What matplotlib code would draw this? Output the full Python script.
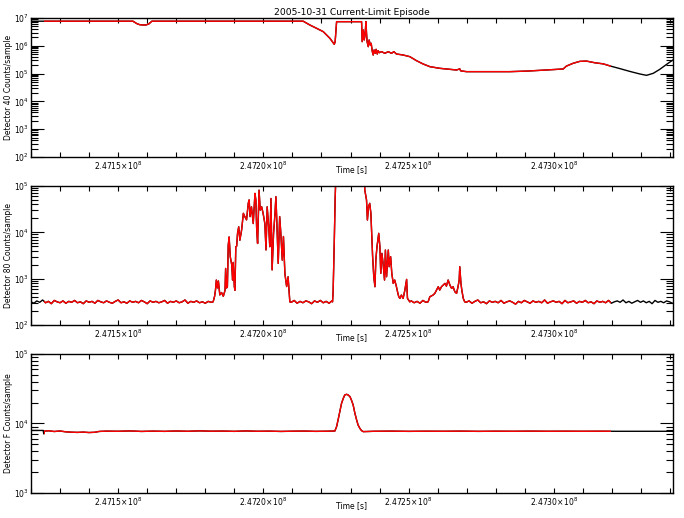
import numpy as np
import matplotlib
matplotlib.use("Agg")
import matplotlib.pyplot as plt
from matplotlib.patches import Rectangle
from matplotlib.ticker import MultipleLocator, LogLocator, NullFormatter, FuncFormatter

# time axis: kiloseconds after T0
T0 = 2.4712e8
T_END_KS = 221.0
RED_KS = (4.4, 199.6)          # part of the record drawn in red

# ---- Detector 40 (log10 counts/sample)
P1_KS = [0, 35.1, 36.4, 37.4, 38.5, 39.6, 40.6, 41.6,
         93.7, 96.0, 98.3, 100.6, 102.9, 104.4, 104.7, 105.2,
         113.8, 114.0, 114.4, 114.7, 115.0, 115.3, 115.5, 115.7, 116.1, 116.4,
         116.8, 117.1, 117.5, 117.8, 118.1, 118.5, 118.8, 119.2, 119.5, 119.9,
         120.7, 121.8, 123.0, 124.1, 124.9, 125.8, 128.1, 130.4, 132.7, 135.0,
         137.3, 140.7, 146.5, 147.6, 147.9, 149.9, 164.8, 170.6, 177.4, 183.2,
         184.3, 186.6, 188.9, 191.2, 194.1, 197.0, 199.5, 202.7, 206.1, 209.6,
         211.9, 214.2, 216.4, 219.3, 221.0]
P1_LOG = [6.885, 6.885, 6.80, 6.76, 6.75, 6.75, 6.79, 6.885,
          6.885, 6.748, 6.629, 6.509, 6.269, 6.053, 6.149, 6.868,
          6.868, 6.149, 6.569, 6.209, 6.389, 6.868, 6.449, 6.149, 5.969, 6.209,
          6.029, 6.089, 5.789, 5.669, 5.849, 5.729, 5.873, 5.705, 5.825, 5.753,
          5.789, 5.729, 5.789, 5.729, 5.789, 5.705, 5.669, 5.609, 5.465, 5.345,
          5.250, 5.19, 5.13, 5.17, 5.10, 5.07, 5.07, 5.09, 5.13, 5.166,
          5.27, 5.37, 5.44, 5.45, 5.39, 5.35, 5.27, 5.18, 5.08, 4.986,
          4.938, 5.01, 5.15, 5.37, 5.49]

# ---- Detector 80: quiet background, 1 ks cadence
P2_QUIET_A = [2.50, 2.47, 2.52, 2.49, 2.54, 2.48, 2.51, 2.46, 2.53, 2.50,
              2.48, 2.52, 2.47, 2.51, 2.49, 2.53, 2.48, 2.50, 2.46, 2.52,
              2.49, 2.51, 2.47, 2.53, 2.50, 2.48, 2.52, 2.49, 2.47, 2.51,
              2.54, 2.48, 2.50, 2.47, 2.52, 2.49, 2.51, 2.48, 2.53, 2.50,
              2.46, 2.52, 2.49, 2.51, 2.48, 2.50, 2.53, 2.47, 2.51, 2.49,
              2.52, 2.48, 2.50, 2.54, 2.47, 2.51, 2.49, 2.52, 2.48, 2.50,
              2.47, 2.51, 2.49]
P2_QUIET_B = [2.49, 2.53, 2.47, 2.51, 2.48, 2.52, 2.50, 2.46, 2.52, 2.49,
              2.53, 2.48, 2.51, 2.47, 2.52]
P2_QUIET_C = [2.52, 2.48, 2.51, 2.47, 2.53, 2.49]
P2_QUIET_D = [2.49, 2.52, 2.47, 2.51, 2.54, 2.48, 2.50, 2.46, 2.52, 2.49,
              2.51, 2.48, 2.53, 2.47, 2.50, 2.52, 2.49, 2.45, 2.51, 2.48,
              2.53, 2.50, 2.47, 2.52, 2.49, 2.51, 2.48, 2.54, 2.47, 2.50,
              2.52, 2.49, 2.51, 2.46, 2.53, 2.48, 2.50, 2.52, 2.47, 2.51,
              2.49, 2.53, 2.48, 2.50, 2.46, 2.52, 2.49, 2.51, 2.48, 2.53,
              2.47, 2.50, 2.52, 2.49, 2.54, 2.48, 2.51, 2.47, 2.50, 2.53,
              2.49, 2.52, 2.48, 2.51, 2.46, 2.53, 2.49, 2.51, 2.48, 2.52,
              2.50, 2.47]
P2_QUIET_START = [0.0, 89.6, 130.9, 149.8]

# ---- Detector 80: active intervals
P2_B1_KS = [62.7, 63.2, 63.5, 63.8, 64.2, 64.5, 65.0, 65.6, 66.2, 66.8,
            67.0, 67.3, 67.6, 67.9, 68.2, 68.6, 69.1, 69.4, 69.6, 70.0,
            70.2, 70.5, 70.8, 71.1, 71.5, 71.9, 72.5, 73.1, 73.6, 74.2,
            74.8, 75.1, 75.4, 75.9, 76.5, 77.1, 77.4, 77.7, 78.0, 78.5,
            78.9, 79.4, 79.9, 80.5, 80.9, 81.3, 81.9, 82.2, 82.6, 83.0,
            83.5, 84.0, 84.3, 84.6, 85.1, 85.6, 86.0, 86.5, 86.9, 87.4,
            88.0, 88.5, 89.1]
P2_B1_LOG = [2.50, 2.62, 2.75, 2.97, 2.80, 2.95, 2.65, 2.70, 2.62, 2.75,
             3.22, 2.80, 2.82, 3.72, 3.90, 3.47, 3.30, 2.97, 3.35, 2.83,
             2.75, 3.69, 3.70, 3.98, 4.12, 3.83, 4.05, 4.41, 4.34, 4.27,
             4.63, 4.70, 4.34, 4.55, 4.19, 4.84, 4.70, 4.05, 3.76, 4.91,
             4.48, 4.55, 4.41, 4.19, 3.62, 4.55, 4.05, 3.69, 4.73, 3.19,
             3.98, 4.41, 4.77, 4.27, 3.33, 4.34, 3.98, 3.40, 3.91, 3.11,
             2.83, 3.04, 2.50]
P2_B2_KS = [103.8, 104.0, 104.4, 104.7, 105.1, 114.6, 114.9, 115.5, 115.8, 116.2,
            116.6, 117.0, 117.2, 117.6, 118.0, 118.4, 118.7, 119.1, 119.4, 119.7,
            120.1, 120.4, 120.8, 121.2, 121.7, 122.0, 122.4, 123.0, 123.3, 123.8,
            124.2, 124.7, 125.2, 125.8, 126.3, 126.6, 127.0, 127.5, 128.1, 128.7,
            129.3, 129.6, 130.4]
P2_B2_LOG = [2.50, 2.718, 3.798, 4.734, 5.5, 5.5, 4.914, 4.698, 4.266, 4.554,
             4.626, 4.410, 4.086, 3.474, 3.042, 2.826, 3.402, 3.690, 3.834, 3.978,
             3.690, 3.114, 3.546, 3.330, 2.970, 3.618, 3.042, 3.618, 3.258, 3.474,
             3.114, 2.898, 2.970, 2.826, 2.682, 2.610, 2.574, 2.646, 2.574, 2.754,
             2.984, 2.574, 2.50]
P2_B3_KS = [136.7, 137.3, 138.4, 139.0, 139.6, 140.2, 140.7, 141.3, 141.9, 142.5,
            143.0, 143.6, 144.2, 144.8, 145.3, 145.9, 146.5, 147.0, 147.4, 147.6,
            148.0, 148.3, 148.8, 149.3]
P2_B3_LOG = [2.50, 2.610, 2.646, 2.682, 2.754, 2.826, 2.754, 2.826, 2.862, 2.898,
             2.840, 2.970, 2.862, 2.790, 2.826, 2.718, 2.682, 2.826, 2.970, 3.258,
             2.898, 2.754, 2.574, 2.50]

# ---- Detector F
P3_KS = [0, 4.2, 4.4, 4.6, 6, 8, 10, 12, 14, 16,
         18, 20, 22, 23.5, 26, 30, 34, 38, 42, 46,
         50, 54, 58, 62, 66, 70, 74, 78, 82, 86,
         90, 94, 98, 102, 104.6, 105.2, 105.7, 106.3, 106.9, 107.5,
         108.0, 108.6, 109.2, 109.8, 110.3, 110.9, 111.5, 112.1, 112.6, 113.2,
         113.8, 114.4, 118, 124, 130, 136, 142, 148, 154, 160,
         166, 172, 178, 184, 190, 196, 202, 208, 214, 221]
P3_LOG = [3.900, 3.900, 3.850, 3.890, 3.895, 3.885, 3.892, 3.880, 3.875, 3.872,
          3.876, 3.870, 3.874, 3.886, 3.890, 3.888, 3.893, 3.886, 3.890, 3.887,
          3.892, 3.888, 3.894, 3.889, 3.891, 3.887, 3.893, 3.888, 3.890, 3.886,
          3.889, 3.891, 3.887, 3.889, 3.892, 3.955, 4.050, 4.170, 4.290, 4.362,
          4.410, 4.420, 4.410, 4.386, 4.338, 4.266, 4.146, 4.050, 3.978, 3.930,
          3.897, 3.883, 3.888, 3.890, 3.887, 3.889, 3.888, 3.890, 3.887, 3.889,
          3.888, 3.890, 3.888, 3.889, 3.888, 3.889, 3.888, 3.888, 3.888, 3.888]

# assemble detector 80
ks2, lg2 = [], []
for start, vals in zip(P2_QUIET_START, [P2_QUIET_A, P2_QUIET_B, P2_QUIET_C, P2_QUIET_D]):
    ks2 += list(start + np.arange(len(vals)) * 1.0)
    lg2 += vals
for k, v in [(P2_B1_KS, P2_B1_LOG), (P2_B2_KS, P2_B2_LOG), (P2_B3_KS, P2_B3_LOG)]:
    ks2 += k
    lg2 += v
order = np.argsort(ks2)
ks2 = np.array(ks2)[order]
lg2 = np.array(lg2)[order]

panels = [
    (np.array(P1_KS), np.array(P1_LOG), (1e2, 1e7), "Detector 40 Counts/sample"),
    (ks2, lg2, (1e2, 1e5), "Detector 80 Counts/sample"),
    (np.array(P3_KS), np.array(P3_LOG), (1e3, 1e5), "Detector F Counts/sample"),
]

plt.rcParams["font.family"] = "DejaVu Sans"
plt.rcParams["font.size"] = 5.5
plt.rcParams["axes.linewidth"] = 1.0

fig = plt.figure(figsize=(6.84, 5.18), dpi=100)
W, H = 684.0, 518.0
tops = [18, 186, 354]
ph = 139

def xfmt(v, pos):
    return r"$%.4f\!\times\!10^{8}$" % (v / 1e8)

for (ks, lg, ylim, ylab), top in zip(panels, tops):
    ax = fig.add_axes([31 / W, 1 - (top + ph) / H, 642 / W, ph / H])
    t = T0 + 1e3 * ks
    y = 10 ** lg
    ax.plot(t, y, color="black", lw=1.0)
    red, = ax.plot(t, y, color="red", lw=1.0)
    ax.set_yscale("log")
    ax.set_ylim(*ylim)
    ax.set_xlim(T0, T0 + 1e3 * T_END_KS)
    # red only inside the window; the rectangle also keeps the axes' y limits
    red.set_clip_path(Rectangle((T0 + 1e3 * RED_KS[0], ylim[0]),
                                1e3 * (RED_KS[1] - RED_KS[0]), ylim[1] - ylim[0],
                                transform=ax.transData))

    ax.xaxis.set_major_locator(MultipleLocator(5e4))
    ax.xaxis.set_minor_locator(MultipleLocator(1e4))
    ax.xaxis.set_major_formatter(FuncFormatter(xfmt))
    ax.yaxis.set_major_locator(LogLocator(base=10))
    ax.yaxis.set_minor_locator(LogLocator(base=10, subs=np.arange(2, 10)))
    ax.yaxis.set_minor_formatter(NullFormatter())
    ax.yaxis.set_major_formatter(FuncFormatter(lambda v, p: r"$10^{%d}$" % round(np.log10(v))))

    ax.tick_params(which="both", direction="in", top=True, right=True, width=0.8)
    ax.tick_params(axis="x", which="both", length=3.6, pad=2)
    ax.tick_params(axis="y", which="major", length=9.4, pad=1.5)
    ax.tick_params(axis="y", which="minor", length=5)

    ax.set_ylabel(ylab)
    ax.yaxis.set_label_coords(-0.028, 0.5)
    ax.set_xlabel("Time [s]")
    ax.xaxis.set_label_coords(0.5, -0.055)
    if top == tops[0]:
        ax.set_title("2005-10-31 Current-Limit Episode", pad=2)

fig.savefig("out.png", dpi=100)
